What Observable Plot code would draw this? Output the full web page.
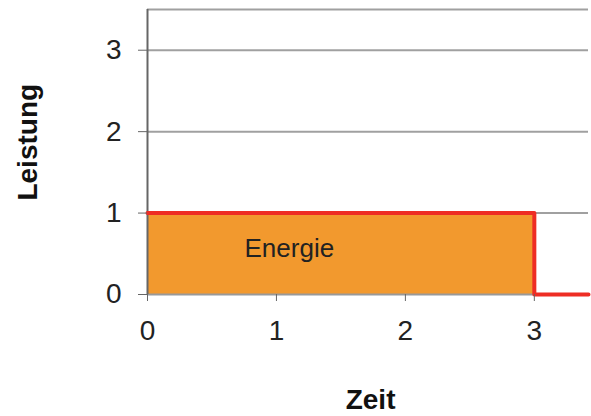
<!DOCTYPE html>
<html><head><meta charset="utf-8">
<script src="https://cdn.jsdelivr.net/npm/d3@7"></script>
<script src="https://cdn.jsdelivr.net/npm/@observablehq/plot@0.6"></script>
<style>
body{margin:0;background:#fff;font-family:"Liberation Sans",Arial,sans-serif;}
</style></head>
<body><div id="chart"></div>
<script>
const zeit = [0, 3, 3.42];
const leistung = [1, 0, 0];
const xTicks = [0, 1, 2, 3];
const yTicks = [0, 1, 2, 3];
const gridLines = [1, 2, 3, 3.5];
const areaLabel = "Energie";
const xLabel = "Zeit";
const yLabel = "Leistung";

const data = zeit.map((t, i) => ({t, p: leistung[i]}));

const chart = Plot.plot({
  width: 591, height: 416,
  marginLeft: 147, marginRight: 3, marginTop: 9, marginBottom: 122,
  style: {fontFamily: "'Liberation Sans', Arial, sans-serif", fontSize: "28px", color: "#222", background: "#fff"},
  x: {domain: [0, 3.42], label: null},
  y: {domain: [0, 3.5], label: null},
  marks: [
    Plot.ruleY(gridLines, {stroke: "#a0a0a0", strokeWidth: 2}),
    Plot.areaY(data, {x: "t", y: "p", curve: "step-after", fill: "#f2992e"}),
    Plot.ruleY([0], {stroke: "#999", strokeWidth: 2}),
    Plot.ruleX([0], {stroke: "#666", strokeWidth: 2}),
    Plot.lineY(data, {x: "t", y: "p", curve: "step-after", stroke: "#ee2d24", strokeWidth: 4}),
    Plot.text([areaLabel], {x: 1.1, y: 0.56, text: d => d, fontSize: 26, fill: "#222"}),
    Plot.axisX({ticks: xTicks, tickFormat: "d", tickSize: 7, tickPadding: 19, stroke: "#666", fontSize: 28, fill: "#222"}),
    Plot.axisY({ticks: yTicks, tickFormat: "d", tickSize: 9, tickPadding: 17, stroke: "#666", fontSize: 28, fill: "#222"}),
    Plot.text([xLabel], {x: 1.73, y: -1.3, text: d => d, fontSize: 28, fontWeight: "bold", fill: "#111"}),
    Plot.text([yLabel], {x: -0.93, y: 1.87, text: d => d, fontSize: 28, fontWeight: "bold", rotate: -90, fill: "#111"})
  ]
});
document.getElementById("chart").appendChild(chart);
</script></body></html>
